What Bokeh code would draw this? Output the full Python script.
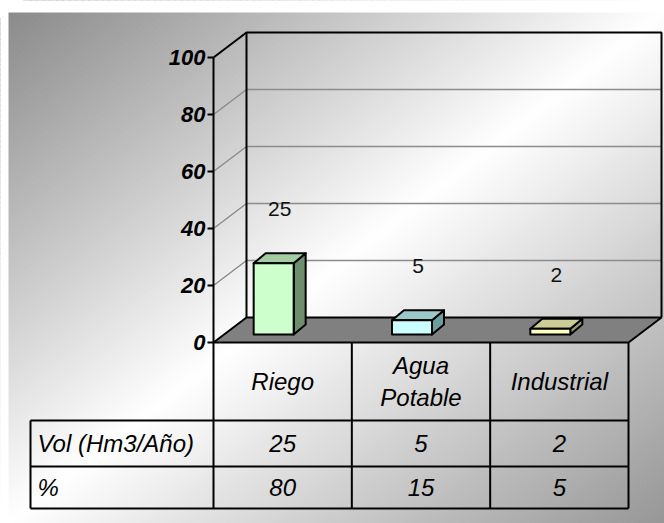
from bokeh.plotting import figure
from bokeh.models import Range1d
from bokeh.core.properties import value
from bokeh.embed import file_html
from bokeh.resources import INLINE

# ---------------- data ----------------
categories = ["Riego", "Agua Potable", "Industrial"]
category_labels = ["Riego", "Agua\nPotable", "Industrial"]
volumes = [25, 5, 2]
percents = [80, 15, 5]
row_headers = ["Vol (Hm3/Año)", "%"]
y_ticks = [0, 20, 40, 60, 80, 100]

front_colors = ["#CCFFCC", "#CCFFFF", "#FFFFC0"]
top_colors = ["#A3CCA3", "#9EC8C8", "#CCCC99"]
side_colors = ["#6E8F6E", "#6C9C9C", "#9A9A6C"]

FONT = value("Liberation Sans")

# ---------------- geometry (pixel space) ----------------
W, H = 664, 523
X0 = 213.0          # front axis x
Y0 = 342.0          # value 0 on front plane
PX = 2.85           # pixels per unit
DX, DY = 33.0, 25.0 # depth offset of the walls
FLOOR_RIGHT = 628.0
COLW = (FLOOR_RIGHT - X0) / len(categories)
BAR_W = 40.0
BAR_BOTTOM = 334.0
BDX, BDY = 12.0, 10.0
TABLE_LEFT = 30.0
CAT_BOTTOM = 420.0
ROW_SEP = 466.0
TABLE_BOTTOM = 508.0


def yfront(v):
    return Y0 - v * PX


p = figure(width=W, height=H, x_range=Range1d(0, W), y_range=Range1d(H, 0),
           toolbar_location=None, output_backend="svg", min_border=0)
p.axis.visible = False
p.grid.visible = False
p.outline_line_color = None
p.background_fill_color = "white"
p.border_fill_color = "white"

# ---------------- background gradient ----------------
BX0, BY0 = 8.0, 12.0
BW, BH = W - BX0, H - BY0
N = 200
xs, ys, cols = [], [], []
for k in range(N):
    t0 = 2.0 * k / N
    t1 = 2.0 * (k + 1) / N
    tm = 0.5 * (t0 + t1)
    if tm < 1:
        g = 255 - 117 * (1 - tm)
    else:
        g = 255 - 105 * (tm - 1)
    g = int(round(g))
    pts = [(t0 + 1, -1), (t1 + 1, -1), (t1 - 2, 2), (t0 - 2, 2)]
    xs.append([BX0 + u * BW for u, v in pts])
    ys.append([BY0 + v * BH for u, v in pts])
    cols.append("#%02x%02x%02x" % (g, g, g))
p.patches(xs, ys, fill_color=cols, line_color=cols, line_width=1)
# white margins top and left
p.quad(left=[-5, -5], right=[W + 5, BX0], top=[-5, -5], bottom=[BY0, H + 5],
       fill_color="white", line_color=None)

# ---------------- walls & gridlines ----------------
for v in y_ticks[1:-1]:
    yf = yfront(v)
    p.line([X0, X0 + DX, FLOOR_RIGHT + DX], [yf, yf - DY, yf - DY],
           line_color="#8c8c8c", line_width=1.5)

# floor
p.patch([X0, FLOOR_RIGHT, FLOOR_RIGHT + DX, X0 + DX],
        [Y0, Y0, Y0 - DY, Y0 - DY],
        fill_color="#808080", line_color="black", line_width=2)

ytop = yfront(max(y_ticks))
# back wall outline + side wall top edge
p.line([X0, X0 + DX, FLOOR_RIGHT + DX, FLOOR_RIGHT + DX],
       [ytop, ytop - DY, ytop - DY, Y0 - DY], line_color="black", line_width=2)
p.line([X0 + DX, X0 + DX], [ytop - DY, Y0 - DY], line_color="black", line_width=2)
# front axis (continues as table border)
p.line([X0, X0], [ytop, TABLE_BOTTOM], line_color="black", line_width=2)
# ticks
for v in y_ticks:
    p.line([X0 - 6, X0], [yfront(v), yfront(v)], line_color="black", line_width=2)
p.text(x=[X0 - 8] * len(y_ticks), y=[yfront(v) for v in y_ticks],
       text=[str(v) for v in y_ticks], text_align="right", text_baseline="middle",
       text_font=FONT, text_font_style="bold italic", text_font_size="22px",
       text_color="black")

# ---------------- bars ----------------
for i, v in enumerate(volumes):
    fc = X0 + (i + 0.5) * COLW - 9
    xl, xr = fc - BAR_W / 2, fc + BAR_W / 2
    yb = BAR_BOTTOM
    yt = BAR_BOTTOM - v * PX
    # side
    p.patch([xr, xr, xr + BDX, xr + BDX], [yb, yt, yt - BDY, yb - BDY],
            fill_color=side_colors[i], line_color="black", line_width=2,
            line_join="round")
    # top
    p.patch([xl, xr, xr + BDX, xl + BDX], [yt, yt, yt - BDY, yt - BDY],
            fill_color=top_colors[i], line_color="black", line_width=2,
            line_join="round")
    # front
    p.patch([xl, xr, xr, xl], [yb, yb, yt, yt],
            fill_color=front_colors[i], line_color="black", line_width=2,
            line_join="round")
    # data label
    p.text(x=[fc + 6], y=[yt - 54], text=[str(v)], text_align="center",
           text_baseline="middle", text_font=FONT, text_font_size="21px",
           text_color="#111111")

# ---------------- data table ----------------
for k in range(1, len(categories) + 1):
    xk = X0 + k * COLW
    p.line([xk, xk], [Y0, TABLE_BOTTOM], line_color="black", line_width=2)
for yy in [CAT_BOTTOM, ROW_SEP, TABLE_BOTTOM]:
    p.line([TABLE_LEFT, FLOOR_RIGHT], [yy, yy], line_color="black", line_width=2)
p.line([TABLE_LEFT, TABLE_LEFT], [CAT_BOTTOM, TABLE_BOTTOM], line_color="black",
       line_width=2)

cat_x = [X0 + (i + 0.5) * COLW for i in range(len(categories))]
p.text(x=cat_x, y=[(Y0 + CAT_BOTTOM) / 2] * len(categories), text=category_labels,
       text_align="center", text_baseline="middle", text_font=FONT,
       text_font_style="italic", text_font_size="24px", text_color="black",
       text_line_height=1.2)
row_y = [(CAT_BOTTOM + ROW_SEP) / 2, (ROW_SEP + TABLE_BOTTOM) / 2]
p.text(x=cat_x, y=[row_y[0]] * len(volumes), text=[str(v) for v in volumes],
       text_align="center", text_baseline="middle", text_font=FONT,
       text_font_style="italic", text_font_size="24px", text_color="black")
p.text(x=cat_x, y=[row_y[1]] * len(percents), text=[str(v) for v in percents],
       text_align="center", text_baseline="middle", text_font=FONT,
       text_font_style="italic", text_font_size="24px", text_color="black")
p.text(x=[TABLE_LEFT + 7] * 2, y=row_y, text=row_headers, text_align="left",
       text_baseline="middle", text_font=FONT, text_font_style="italic",
       text_font_size="24px", text_color="black")

open("out.html", "w").write(file_html(p, INLINE))
